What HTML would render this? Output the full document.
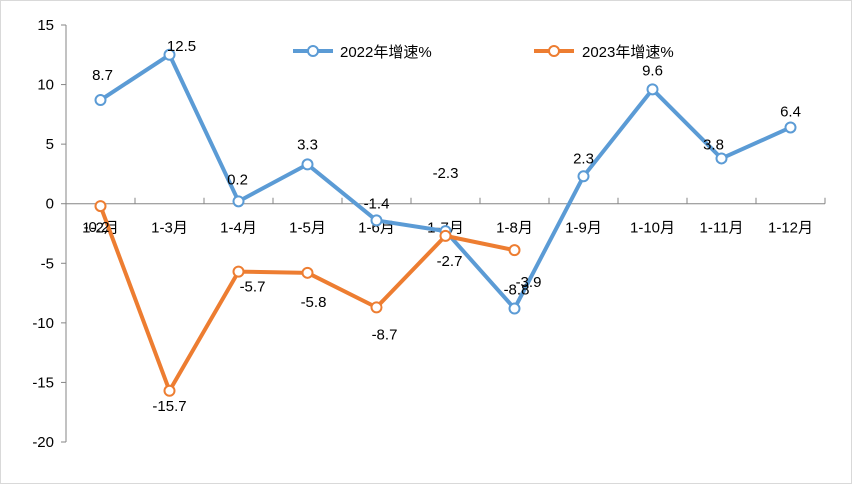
<!DOCTYPE html>
<html><head><meta charset="utf-8"><style>
html,body{margin:0;padding:0;background:#fff}
svg{display:block}
text{font-family:"Liberation Sans","Noto Sans CJK SC",sans-serif;font-size:15px;fill:#000}
</style></head><body>
<svg id="chart" width="852" height="484">
<rect x="0.5" y="0.5" width="851" height="483" fill="#fff" stroke="#d9d9d9"/>
<g id="axes"></g><g id="series"></g>
<g>
<g>
<line x1="293" y1="51" x2="333" y2="51" stroke="#5b9bd5" stroke-width="4"/>
<circle cx="313" cy="51" r="5" fill="#fff" stroke="#5b9bd5" stroke-width="2"/>
<text x="340" y="57">2022年增速%</text></g>
<g>
<line x1="534" y1="51" x2="574" y2="51" stroke="#ed7d31" stroke-width="4"/>
<circle cx="554" cy="51" r="5" fill="#fff" stroke="#ed7d31" stroke-width="2"/>
<text x="582" y="57">2023年增速%</text></g>
</g>
</svg>
<script>
const categories=["1-2月","1-3月","1-4月","1-5月","1-6月","1-7月","1-8月","1-9月","1-10月","1-11月","1-12月"];
const series2022=[8.7,12.5,0.2,3.3,-1.4,-2.3,-8.8,2.3,9.6,3.8,6.4];
const series2023=[-0.2,-15.7,-5.7,-5.8,-8.7,-2.7,-3.9];
const yTicks=[15,10,5,0,-5,-10,-15,-20];
const labels2022=["8.7","12.5","0.2","3.3","-1.4","-2.3","-8.8","2.3","9.6","3.8","6.4"];
const labels2023=["-0.2","-15.7","-5.7","-5.8","-8.7","-2.7","-3.9"];
const NS="http://www.w3.org/2000/svg";
const x0=66,step=69,yTop=25,yBot=442,vMax=15,vMin=-20;
const X=i=>x0+step*(i+0.5);
const Y=v=>yTop+(vMax-v)*(yBot-yTop)/(vMax-vMin);
function mk(p,tag,a){const e=document.createElementNS(NS,tag);for(const k in a)e.setAttribute(k,a[k]);p.appendChild(e);return e;}
const axes=document.getElementById('axes'),ser=document.getElementById('series');
const ya=mk(axes,'line',{x1:x0,y1:yTop,x2:x0,y2:yBot,stroke:'#868686'});


yTicks.forEach(v=>{
 mk(axes,'line',{x1:x0-5,y1:Y(v),x2:x0,y2:Y(v),stroke:'#868686'});
 const t=mk(axes,'text',{x:x0-12,y:Y(v)+5,'text-anchor':'end'});t.textContent=v;
 
 
});
const xa=mk(axes,'line',{x1:x0,y1:Y(0),x2:x0+step*categories.length,y2:Y(0),stroke:'#868686'});


categories.forEach((c,i)=>{
 mk(axes,'line',{x1:x0+step*(i+1),y1:Y(0)-6,x2:x0+step*(i+1),y2:Y(0),stroke:'#868686'});
 const t=mk(axes,'text',{x:X(i),y:Y(0)+29,'text-anchor':'middle'});t.textContent=c;
 
 
});
function draw(vals,labs,color,name,offs){
 const g=mk(ser,'g',{});
 
 
 mk(g,'polyline',{points:vals.map((v,i)=>X(i)+','+Y(v)).join(' '),fill:'none',stroke:color,'stroke-width':4,'stroke-linejoin':'round'});
 vals.forEach((v,i)=>{
  const c=mk(g,'circle',{cx:X(i),cy:Y(v),r:5,fill:'#fff',stroke:color,'stroke-width':2});
  
  
  const o=offs[i];
  const t=mk(g,'text',{x:X(i)+o[0],y:Y(v)+o[1],'text-anchor':'middle'});t.textContent=labs[i];
  
  
 });
}
draw(series2022,labels2022,'#5b9bd5','series-2022',[[2,-20],[12,-4],[-1,-17],[0,-15],[0,-12],[0,-53],[2,-14],[0,-13],[0,-14],[-8,-9],[0,-11]]);
draw(series2023,labels2023,'#ed7d31','series-2023',[[-4,26],[0,20],[14,20],[6,34],[8,32],[4,30],[14,37]]);
</script>
</body></html>
